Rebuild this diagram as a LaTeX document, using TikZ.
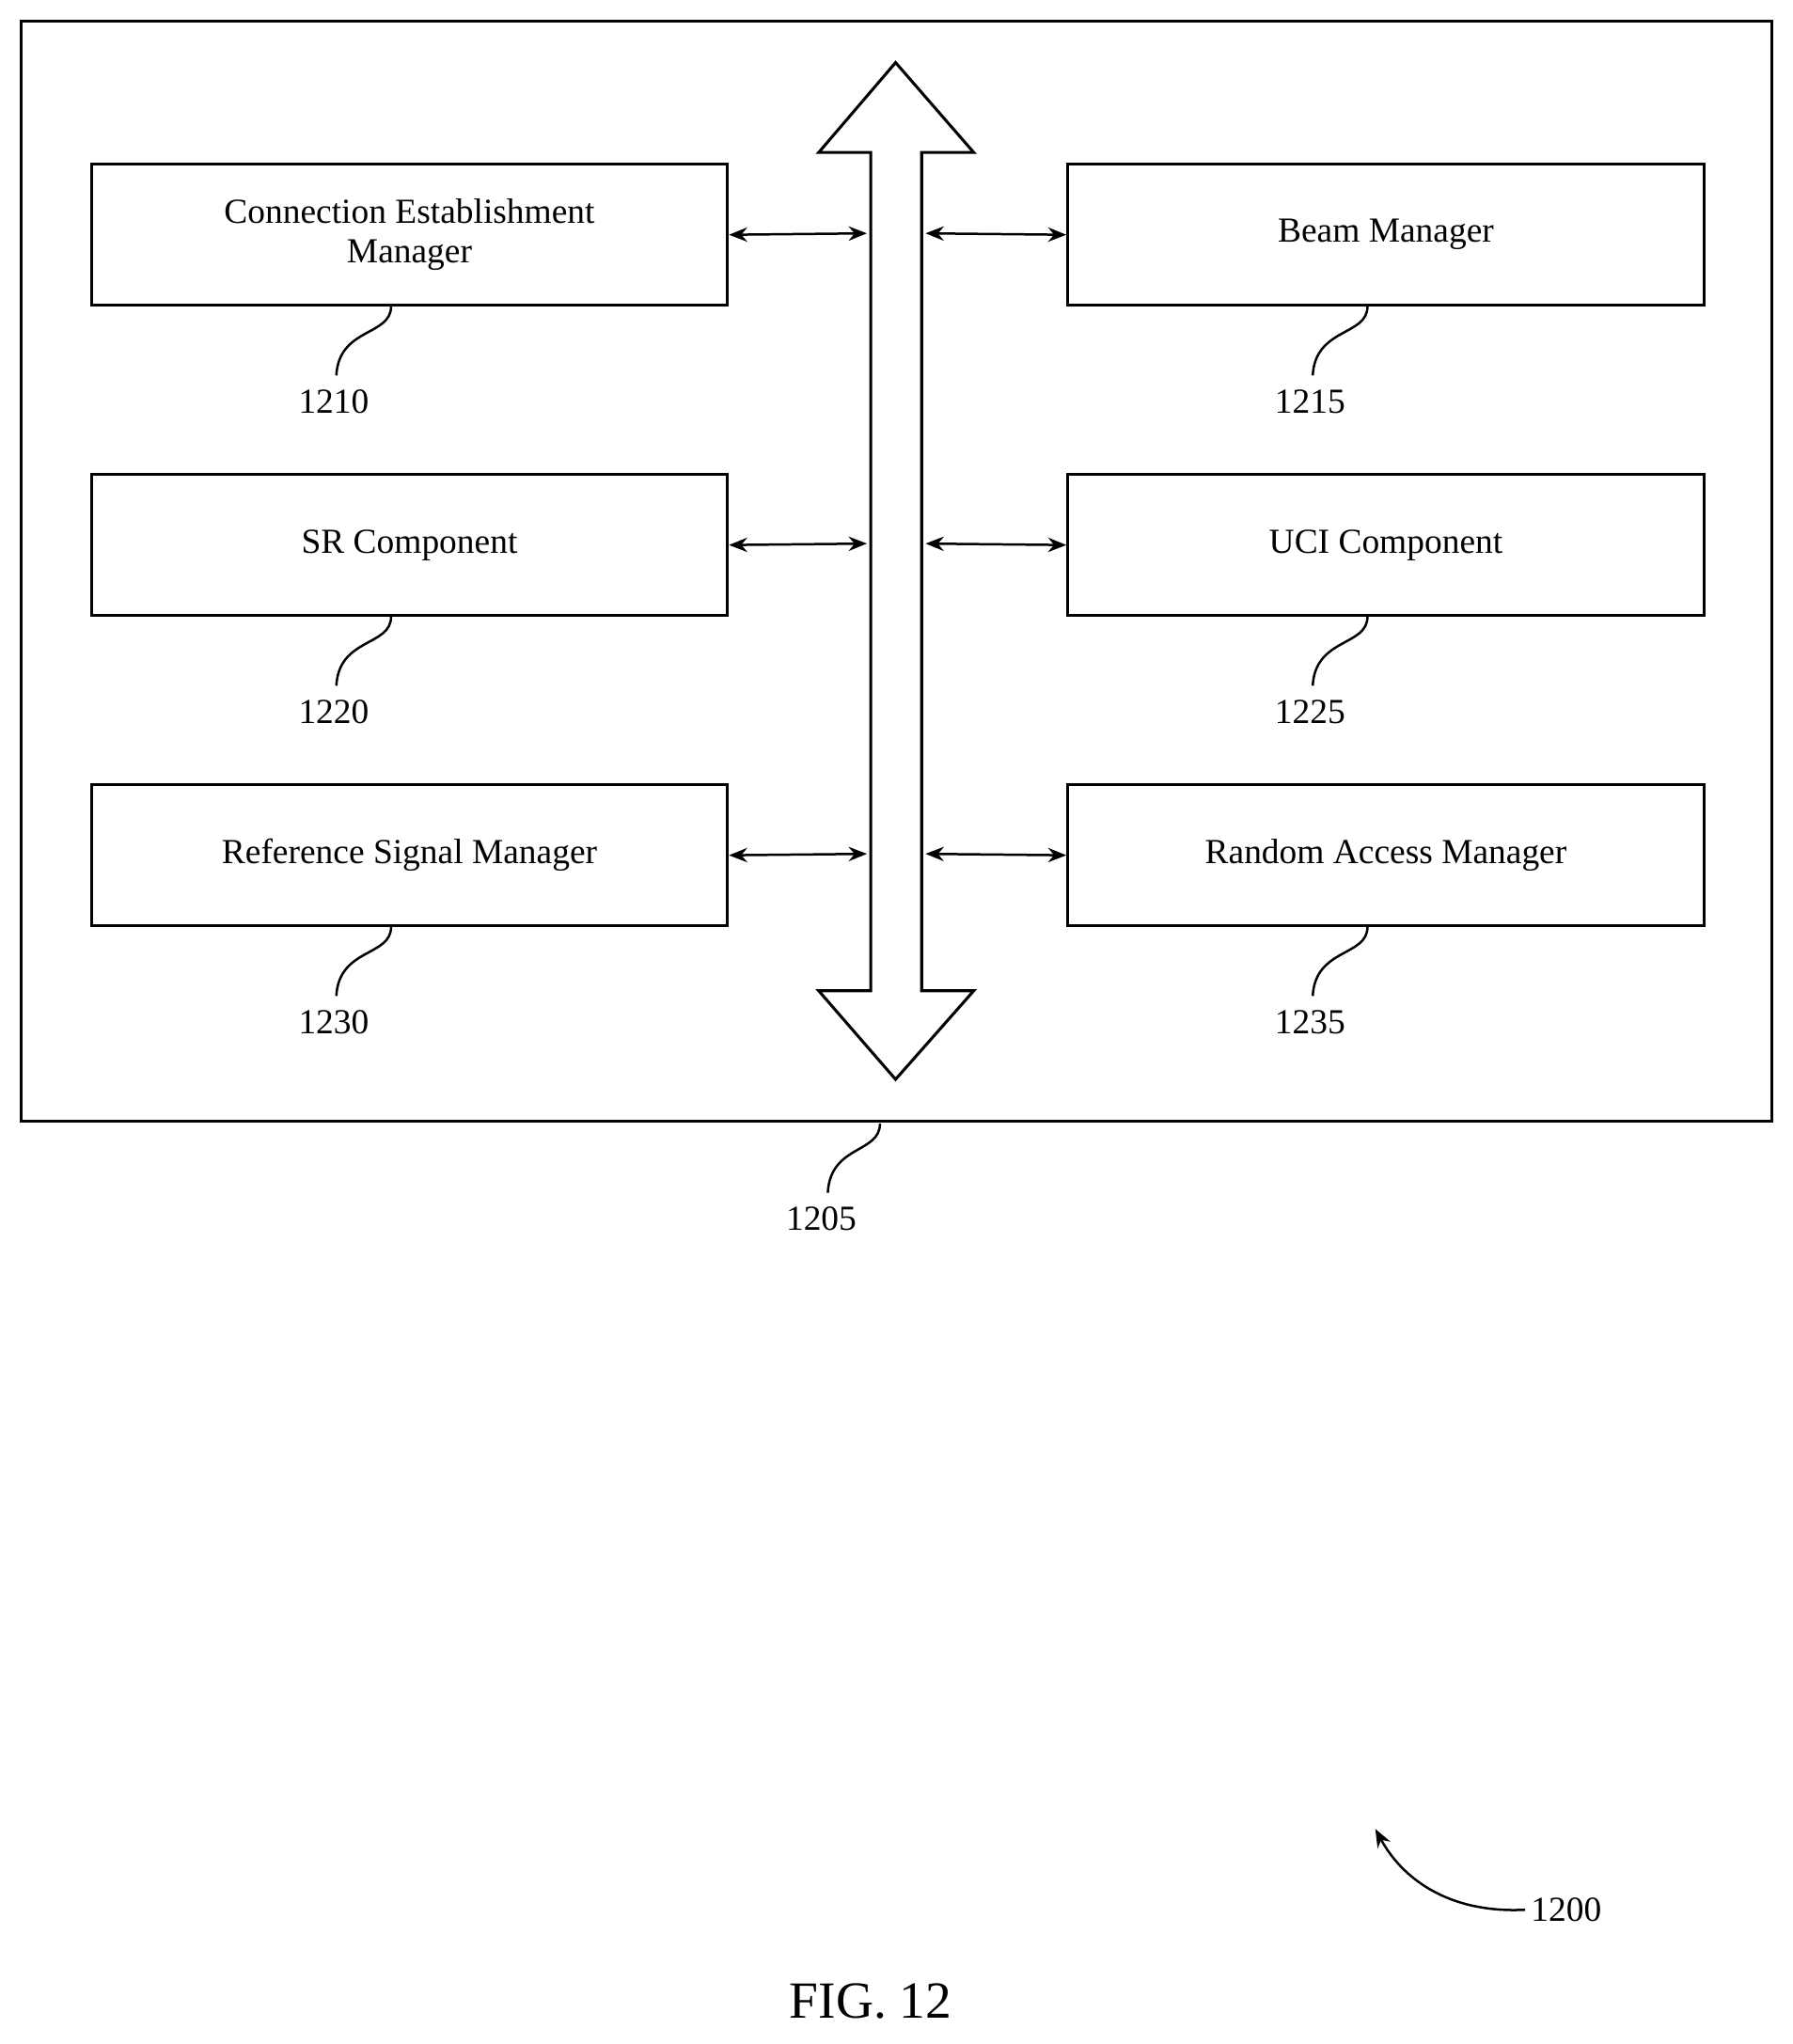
\documentclass[tikz,border=0pt]{standalone}
\usepackage{fontspec}
\setmainfont{Liberation Serif}
\usetikzlibrary{arrows.meta}
\begin{document}
\begin{tikzpicture}[x=1pt,y=-1pt,line width=2.2pt,
 box/.style={draw,minimum width=488pt,minimum height=108pt,anchor=north west,inner sep=0pt,align=center,font=\fontsize{27}{30}\selectfont},
 lbl/.style={font=\fontsize{27}{30}\selectfont},
 dbl/.style={{Stealth[length=14pt,width=11pt]}-{Stealth[length=14pt,width=11pt]},line width=1.8pt},
 sq/.style={line width=1.8pt}]
\useasboundingbox (0,0) rectangle (1375,1568);
\draw (16,16) rectangle (1359,860);
\draw (687,48) -- (747,117) -- (707,117) -- (707,760) -- (747,760) -- (687,828) -- (628,760) -- (668,760) -- (668,117) -- (628,117) -- cycle;
\node[box] (b1) at (69,125) {Connection Establishment\\Manager};
\node[box] (b2) at (818,125) {Beam Manager};
\node[box] (b3) at (69,363) {SR Component};
\node[box] (b4) at (818,363) {UCI Component};
\node[box] (b5) at (69,601) {Reference Signal Manager};
\node[box] (b6) at (818,601) {Random Access Manager};
\foreach \i/\y in {1/179,3/417,5/655}{
 \coordinate (l\i) at (665,\y);
 \draw[dbl] (b\i.east) -- (l\i);}
\foreach \i/\y in {2/179,4/417,6/655}{
 \coordinate (r\i) at (710,\y);
 \draw[dbl] (r\i) -- (b\i.west);}
\foreach \i/\n/\x/\y in {1/1210/300/233,3/1220/300/471,5/1230/300/709,2/1215/1049/233,4/1225/1049/471,6/1235/1049/709}{
 \node[lbl] (n\n) at (\x-44,\y+75) {\n};
 \coordinate (s\n) at (\x,\y+2);
 \draw[sq] (s\n) .. controls (\x,\y+25) and (\x-40,\y+18) .. (\x-42,\y+55);}
\node[lbl] (n1205) at (630,935) {1205};
\coordinate (s1205) at (675,862);
\draw[sq] (s1205) .. controls (675,885) and (637,878) .. (635,915);
\node[lbl,anchor=west] (n1200) at (1170,1465) {1200};
\coordinate (a1200) at (1055,1403);
\draw[sq,-{Stealth[length=14pt,width=11pt]}] (n1200.west) .. controls (1110,1468) and (1075,1440) .. (a1200);
\node[font=\fontsize{40}{44}\selectfont] (fig) at (668,1535) {FIG. 12};
\end{tikzpicture}
\end{document}
